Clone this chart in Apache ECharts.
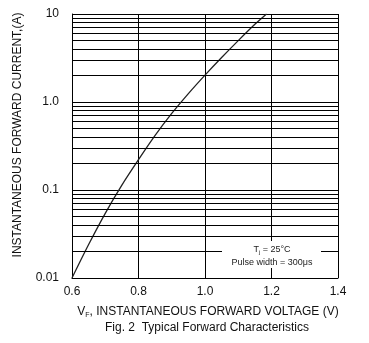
<!DOCTYPE html>
<html>
<head>
<meta charset="utf-8">
<script src="https://cdn.jsdelivr.net/npm/echarts@6/dist/echarts.min.js"></script>
<style>
html,body{margin:0;padding:0;background:#fff;}
#chart{width:369px;height:343px;}
</style>
</head>
<body>
<div id="chart"></div>
<script>
// Forward voltage (V) and forward current (A)
var voltage = [0.60, 0.65, 0.70, 0.75, 0.80, 0.85, 0.90, 0.95, 1.00, 1.05, 1.10, 1.15, 1.185];
var current = [0.01, 0.024, 0.0543, 0.1135, 0.221, 0.417, 0.741, 1.245, 2.02, 3.20, 4.98, 7.63, 10];
// Axis tick labels
var xTickLabels = ['0.6', '0.8', '1.0', '1.2', '1.4'];
var yTickLabels = ['0.01', '0.1', '1.0', '10'];
// Minor horizontal grid values (2..9 of each decade)
var minorGrid = [0.02,0.03,0.04,0.05,0.06,0.07,0.08,0.09,0.2,0.3,0.4,0.5,0.6,0.7,0.8,0.9,2,3,4,5,6,7,8,9];

var FONT = '"Liberation Sans", Arial, sans-serif';
var chart = echarts.init(document.getElementById('chart'), null, {renderer: 'canvas'});

var points = voltage.map(function (v, i) { return [v, current[i]]; });

chart.setOption({
  animation: false,
  backgroundColor: '#fff',
  title: {
    text: 'Fig. 2  Typical Forward Characteristics',
    left: 207, top: 322, textAlign: 'center', padding: 0,
    textStyle: {fontFamily: FONT, fontSize: 12, fontWeight: 'normal', color: '#111'}
  },
  grid: {left: 72, right: 31, top: 14, bottom: 65},
  xAxis: {
    type: 'value', min: 0.6, max: 1.4, interval: 0.2,
    axisLine: {show: true, lineStyle: {color: '#000', width: 1}},
    axisTick: {show: false},
    splitLine: {show: true, lineStyle: {color: '#000', width: 1}},
    axisLabel: {
      margin: 8, fontFamily: FONT, fontSize: 12, color: '#111',
      formatter: function (v) { return xTickLabels[Math.round((v - 0.6) / 0.2)]; }
    },
    name: 'V{sub|F}, INSTANTANEOUS FORWARD VOLTAGE (V)',
    nameLocation: 'middle', nameGap: 27,
    nameTextStyle: {
      fontFamily: FONT, fontSize: 12, color: '#111', padding: [0, 0, 0, 6],
      rich: {sub: {fontFamily: FONT, fontSize: 7, color: '#111', verticalAlign: 'bottom', padding: [7, 0, 0, 0]}}
    }
  },
  yAxis: {
    type: 'log', logBase: 10, min: 0.01, max: 10,
    axisLine: {show: true, lineStyle: {color: '#000', width: 1}},
    axisTick: {show: false},
    splitLine: {show: true, lineStyle: {color: '#000', width: 1}},
    axisLabel: {
      margin: 13, fontFamily: FONT, fontSize: 12, color: '#111',
      formatter: function (v) { return yTickLabels[Math.round(Math.log10(v)) + 2]; }
    },
    name: 'INSTANTANEOUS FORWARD CURRENT,(A)',
    nameLocation: 'middle', nameGap: 48,
    nameTextStyle: {fontFamily: FONT, fontSize: 12, color: '#111', padding: [0, 0, 0, 22]}
  },
  series: [{
    type: 'line',
    data: points,
    smooth: 0.3,
    symbol: 'none',
    lineStyle: {color: '#222', width: 1.3},
    markLine: {
      silent: true, symbol: 'none', animation: false,
      label: {show: false},
      lineStyle: {color: '#000', width: 1, type: 'solid'},
      emphasis: {disabled: true},
      data: minorGrid.map(function (v) { return {yAxis: v}; })
    }
  }],
  graphic: [
    {type: 'rect', z: 100, shape: {x: 222, y: 241, width: 99, height: 27}, style: {fill: '#fff'}},
    {type: 'text', z: 101, x: 272, y: 250, style: {
      text: 'T{sub|j} = 25°C', align: 'center', verticalAlign: 'middle',
      font: '9px ' + FONT, fill: '#222',
      rich: {sub: {fontSize: 6, fontFamily: FONT, fill: '#222', padding: [5, 0, 0, 0]}}
    }},
    {type: 'text', z: 101, x: 272, y: 263, style: {
      text: 'Pulse width = 300μs', align: 'center', verticalAlign: 'middle',
      font: '9px ' + FONT, fill: '#222'
    }}
  ]
});
</script>
</body>
</html>
